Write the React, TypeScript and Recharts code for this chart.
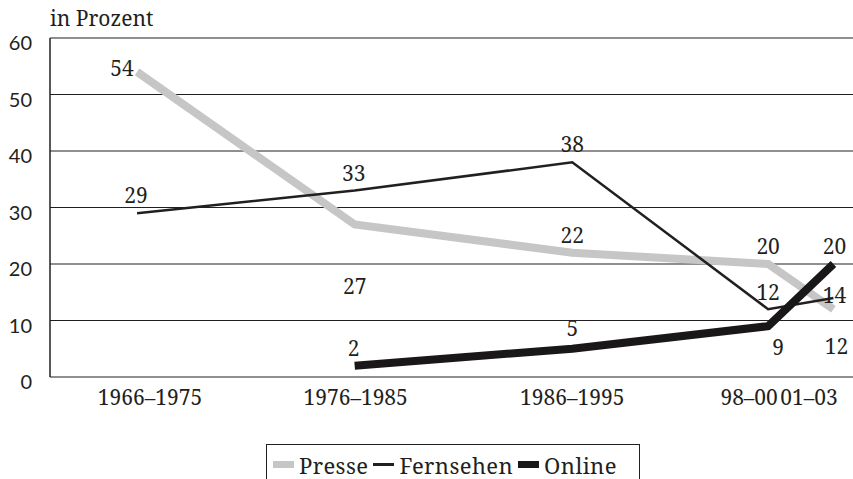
import { CartesianGrid, LabelList, Line, LineChart, XAxis, YAxis } from 'recharts';

const periods = ['1966–1975', '1976–1985', '1986–1995', '98–00', '01–03'];
// midpoint year of each period, so that the short periods sit closer together
const periodMid = [1970.5, 1980.5, 1990.5, 1999.5, 2002.5];
const presse = [54, 27, 22, 20, 12];
const fernsehen = [29, 33, 38, 12, 14];
const online = [null, 2, 5, 9, 20];
const yTicks = [0, 10, 20, 30, 40, 50, 60];

const series = [
  { key: 'presse', name: 'Presse', color: '#c6c6c6', width: 8 },
  { key: 'fernsehen', name: 'Fernsehen', color: '#231f20', width: 2.5 },
  { key: 'online', name: 'Online', color: '#1a1718', width: 8 },
];

const chartData = periods.map((period, i) => ({
  period,
  x: periodMid[i],
  presse: presse[i],
  fernsehen: fernsehen[i],
  online: online[i],
}));

// label offsets from each point (dx, dy)
const labelOffsets: Record<string, number[][]> = {
  presse: [[-15, -4], [0, 62], [0, -18], [0, -18], [3, 37]],
  fernsehen: [[-1, -18], [-1, -18], [0, -18], [0, -17], [1, -3]],
  online: [[0, 0], [-1, -18], [0, -21], [10, 21], [1, -18]],
};

const tickDx = [13, 1, 0, -19, -22];

const serif = '"Noto Serif"';
const ink = '#231f20';

function makeLabel(key: string) {
  return (props: any) => {
    const { x, y, value, index } = props;
    if (value == null) return null;
    const [dx, dy] = labelOffsets[key][index];
    return (
      <text
        dominantBaseline="central"
        fill={ink}
        fontFamily={serif}
        fontSize={21}
        textAnchor="middle"
        x={x + dx}
        y={y + dy}
      >
        {value}
      </text>
    );
  };
}

function PeriodTick(props: any) {
  const { x, y, index } = props;
  return (
    <text
      dominantBaseline="central"
      fill={ink}
      fontFamily={serif}
      fontSize={21}
      textAnchor="middle"
      x={x + tickDx[index]}
      y={y + 12}
    >
      {periods[index]}
    </text>
  );
}

function ValueTick(props: any) {
  const { x, y, payload } = props;
  return (
    <text
      dominantBaseline="central"
      fill={ink}
      fontFamily="Lato"
      fontSize={20}
      textAnchor="end"
      x={x}
      y={y + 4}
    >
      {payload.value}
    </text>
  );
}

function LegendBox() {
  return (
    <div
      style={{
        alignItems: 'center',
        borderLeft: `1.5px solid ${ink}`,
        borderRight: `1.5px solid ${ink}`,
        borderTop: `1.5px solid ${ink}`,
        boxSizing: 'border-box',
        color: ink,
        display: 'flex',
        fontFamily: serif,
        fontSize: 22,
        height: 40,
        left: 266,
        letterSpacing: 0.4,
        paddingLeft: 6,
        position: 'absolute',
        top: 444,
        width: 374,
      }}
    >
      {series.map((s) => (
        <span key={s.key} style={{ alignItems: 'center', display: 'flex', marginRight: 5 }}>
          <span
            style={{
              background: s.color,
              display: 'inline-block',
              height: s.width === 8 ? 7 : 3,
              marginRight: 5,
              width: 21,
            }}
          />
          {s.name}
        </span>
      ))}
    </div>
  );
}

export default function App() {
  return (
    <div
      style={{
        background: '#fff',
        height: 479,
        left: 0,
        overflow: 'hidden',
        position: 'absolute',
        top: 0,
        width: 853,
      }}
    >
      <div
        style={{
          color: ink,
          fontFamily: serif,
          fontSize: 21,
          left: 50,
          position: 'absolute',
          top: 4,
        }}
      >
        in Prozent
      </div>
      <LineChart
        data={chartData}
        height={479}
        margin={{ bottom: 52, left: 0, right: 0, top: 38 }}
        width={853}
      >
        <CartesianGrid stroke={ink} strokeWidth={1.2} vertical={false} />
        <XAxis
          allowDataOverflow
          axisLine={false}
          dataKey="x"
          domain={[1966.5, 2003.4]}
          height={50}
          tick={<PeriodTick />}
          tickLine={false}
          ticks={periodMid}
          type="number"
        />
        <YAxis
          axisLine={{ stroke: ink, strokeWidth: 1.5 }}
          domain={[0, 60]}
          tick={<ValueTick />}
          tickLine={false}
          tickMargin={12}
          ticks={yTicks}
          width={50}
        />
        {series.map((s) => (
          <Line
            dataKey={s.key}
            dot={false}
            isAnimationActive={false}
            key={s.key}
            name={s.name}
            stroke={s.color}
            strokeLinecap="butt"
            strokeLinejoin="miter"
            strokeWidth={s.width}
            type="linear"
          >
            <LabelList content={makeLabel(s.key)} dataKey={s.key} />
          </Line>
        ))}
      </LineChart>
      <LegendBox />
    </div>
  );
}
